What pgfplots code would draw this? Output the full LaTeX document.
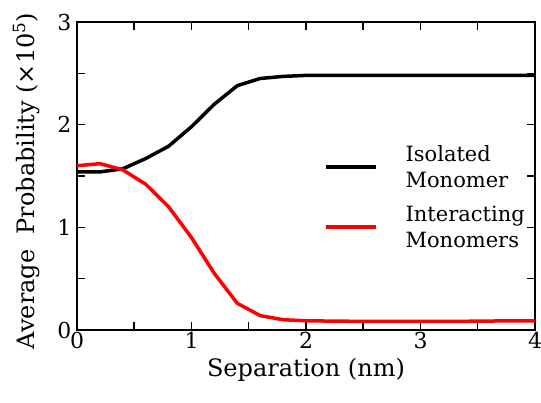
\documentclass[border=0pt]{standalone}
\usepackage{fontspec}
\setmainfont{DejaVu Serif}
\usepackage{pgfplots}
\pgfplotsset{compat=1.18}

\begin{document}
\begin{tikzpicture}
\path[use as bounding box] (-77pt,-72pt) rectangle (464pt,330pt);
\begin{axis}[
    scale only axis,
    width=458pt, height=308pt,
    at={(0,0)}, anchor=south west,
    xmin=0, xmax=4, ymin=0, ymax=3,
    xtick={0,1,2,3,4}, ytick={0,1,2,3},
    minor x tick num=1, minor y tick num=1,
    tick align=inside,
    major tick length=8pt, minor tick length=8pt,
    every tick/.style={line width=1.5pt, black},
    axis line style={line width=2pt},
    /pgf/number format/assume math mode=true,
    xlabel={Separation (nm)},
    ylabel={Average\ \ Probability (×10\textsuperscript{5})},
    xlabel style={yshift=-2pt},
    ylabel style={yshift=11pt, xshift=-5pt},
    xticklabel style={yshift=1pt},
    yticklabel style={xshift=-2pt},
    tick label style={font=\fontsize{22pt}{26pt}\selectfont},
    label style={font=\fontsize{24pt}{28pt}\selectfont},
    legend cell align=left,
    legend style={draw=none, fill=none, at={(axis cs:2.13,1.84)}, anchor=north west,
        font=\fontsize{21pt}{26pt}\selectfont, cells={align=left}, row sep=13pt,
        column sep=26pt},
    legend image code/.code={\draw[#1] (0cm,0cm) -- (50pt,0cm);},
]
\addplot[black, line width=3.5pt] coordinates {
(0,1.54) (0.2,1.54) (0.4,1.57) (0.6,1.67) (0.8,1.79) (1.0,1.98) (1.2,2.20) (1.4,2.38)
(1.6,2.45) (1.8,2.47) (2.0,2.48) (2.2,2.48) (2.4,2.48) (2.6,2.48) (2.8,2.48) (3.0,2.48)
(3.2,2.48) (3.4,2.48) (3.6,2.48) (3.8,2.48) (4.0,2.48)};
\addlegendentry{Isolated\\Monomer}
\addplot[red, line width=3.5pt] coordinates {
(0,1.60) (0.2,1.62) (0.4,1.56) (0.6,1.42) (0.8,1.20) (1.0,0.90) (1.2,0.55) (1.4,0.26)
(1.6,0.14) (1.8,0.10) (2.0,0.09) (2.2,0.087) (2.4,0.085) (2.6,0.085) (2.8,0.085) (3.0,0.085)
(3.2,0.085) (3.4,0.085) (3.6,0.087) (3.8,0.09) (4.0,0.09)};
\addlegendentry{Interacting\\Monomers}
\end{axis}
\end{tikzpicture}
\end{document}
